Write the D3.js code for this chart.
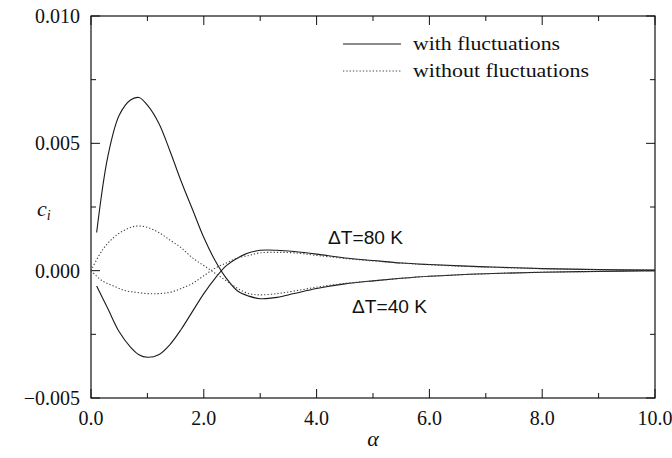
<!DOCTYPE html>
<html>
<head>
<meta charset="utf-8">
<script src="https://cdn.jsdelivr.net/npm/d3@7"></script>
<style>
  body { margin: 0; background: #fff; }
  svg { display: block; }
</style>
</head>
<body>
<svg id="chart" width="672" height="458"></svg>
<script>
// alpha grid and c_i values
const alphaA = [0.1, 0.3, 0.5, 0.7, 0.85, 1.0, 1.2, 1.4, 1.6, 1.8, 2.0, 2.2, 2.4, 2.6, 2.8, 3.0, 3.3, 3.6, 4.0, 4.5, 5.0, 5.5, 6.0, 7.0, 8.0, 9.0, 10.0];
const solidUpper = [0.0015, 0.0045, 0.0061, 0.0067, 0.0068, 0.0065, 0.0058, 0.0047, 0.0035, 0.0024, 0.0013, 0.0004, -0.0003, -0.0008, -0.0010, -0.0011, -0.00105, -0.0009, -0.0007, -0.00052, -0.0004, -0.0003, -0.00022, -0.00012, -0.00006, -0.00003, 0.0];
const solidLower = [-0.0006, -0.0015, -0.0024, -0.0030, -0.0033, -0.0034, -0.0033, -0.0029, -0.0023, -0.0016, -0.0009, -0.0003, 0.0002, 0.0005, 0.0007, 0.0008, 0.0008, 0.00075, 0.00065, 0.0005, 0.0004, 0.0003, 0.00024, 0.00015, 0.00008, 0.00004, 0.00002];

const alphaB = [0.0, 0.2, 0.4, 0.6, 0.8, 1.0, 1.2, 1.4, 1.6, 1.8, 2.0, 2.2, 2.4, 2.6, 2.8, 3.0, 3.3, 3.6, 4.0, 4.5, 5.0, 5.5, 6.0, 7.0, 8.0, 9.0, 10.0];
const dottedUpper = [0.0, 0.0008, 0.0013, 0.0016, 0.00175, 0.0017, 0.0015, 0.0012, 0.0009, 0.0005, 0.0002, -0.0001, -0.0004, -0.0007, -0.0009, -0.00095, -0.0009, -0.0008, -0.00065, -0.0005, -0.0004, -0.0003, -0.00022, -0.00012, -0.00006, -0.00003, 0.0];
const dottedLower = [0.0, -0.0004, -0.0006, -0.00078, -0.00085, -0.0009, -0.0009, -0.00085, -0.0007, -0.0005, -0.0002, 0.0001, 0.0003, 0.0005, 0.0006, 0.0007, 0.00072, 0.0007, 0.0006, 0.00048, 0.00038, 0.0003, 0.00023, 0.00014, 0.00008, 0.00004, 0.00002];

const xTicks = [0, 2, 4, 6, 8, 10];
const xMinor = [1, 3, 5, 7, 9];
const yTicks = [-0.005, 0.0, 0.005, 0.010];
const yMinor = [-0.0025, 0.0025, 0.0075];

const legendLabels = ["with fluctuations", "without fluctuations"];
const curveLabels = ["\u0394T=80 K", "\u0394T=40 K"];

const frame = { left: 91, right: 655, top: 16, bottom: 398 };
const svg = d3.select("#chart");

const x = d3.scaleLinear().domain([0, 10]).range([frame.left, frame.right]);
const y = d3.scaleLinear().domain([-0.005, 0.010]).range([frame.bottom, frame.top]);

const ink = "#111";

// frame
svg.append("rect")
  .attr("x", frame.left).attr("y", frame.top)
  .attr("width", frame.right - frame.left).attr("height", frame.bottom - frame.top)
  .attr("fill", "none").attr("stroke", ink).attr("stroke-width", 1.2);

// inward ticks on all four sides
const tickG = svg.append("g").attr("stroke", ink).attr("stroke-width", 1);
function vTicks(vals, len) {
  vals.forEach(v => {
    tickG.append("line").attr("x1", x(v)).attr("x2", x(v)).attr("y1", frame.bottom).attr("y2", frame.bottom - len);
    tickG.append("line").attr("x1", x(v)).attr("x2", x(v)).attr("y1", frame.top).attr("y2", frame.top + len);
  });
}
function hTicks(vals, len) {
  vals.forEach(v => {
    tickG.append("line").attr("y1", y(v)).attr("y2", y(v)).attr("x1", frame.left).attr("x2", frame.left + len);
    tickG.append("line").attr("y1", y(v)).attr("y2", y(v)).attr("x1", frame.right).attr("x2", frame.right - len);
  });
}
vTicks(xTicks, 9); vTicks(xMinor, 5);
hTicks(yTicks, 9); hTicks(yMinor, 5);

const tickFont = "'Liberation Serif', 'Times New Roman', serif";

svg.append("g").selectAll("text").data(xTicks).join("text")
  .attr("x", d => x(d)).attr("y", frame.bottom + 27)
  .attr("text-anchor", "middle")
  .attr("font-family", tickFont).attr("font-size", 20).attr("fill", ink)
  .text(d => d3.format(".1f")(d));

svg.append("g").selectAll("text").data(yTicks).join("text")
  .attr("x", frame.left - 11).attr("y", d => y(d) + 7)
  .attr("text-anchor", "end")
  .attr("font-family", tickFont).attr("font-size", 20).attr("fill", ink)
  .text(d => d3.format(".3f")(d).replace("-", "\u2212"));

// axis titles
svg.append("text")
  .attr("x", x(5)).attr("y", 446)
  .attr("text-anchor", "middle")
  .attr("font-family", tickFont).attr("font-style", "italic").attr("font-size", 22).attr("fill", ink)
  .text("\u03b1");

const ci = svg.append("text")
  .attr("x", 37).attr("y", 216)
  .attr("font-family", tickFont).attr("font-style", "italic").attr("font-size", 22).attr("fill", ink);
ci.append("tspan").text("c");
ci.append("tspan").attr("font-size", 14).attr("dy", 4).text("i");

// curves
const line = d3.line().x(d => x(d[0])).y(d => y(d[1])).curve(d3.curveCatmullRom.alpha(0.5));
const plot = svg.append("g");

function drawCurve(xs, ys, dashed) {
  plot.append("path")
    .datum(xs.map((a, i) => [a, ys[i]]))
    .attr("d", line)
    .attr("fill", "none")
    .attr("stroke", dashed ? "#444" : "#1a1a1a")
    .attr("stroke-width", 1.1)
    .attr("stroke-dasharray", dashed ? "1.3,2" : null);
}
drawCurve(alphaA, solidUpper, false);
drawCurve(alphaA, solidLower, false);
drawCurve(alphaB, dottedUpper, true);
drawCurve(alphaB, dottedLower, true);

// legend
const legend = svg.append("g");
[false, true].forEach((dashed, i) => {
  const ly = 44 + i * 27;
  legend.append("line")
    .attr("x1", 343).attr("x2", 401).attr("y1", ly).attr("y2", ly)
    .attr("stroke", dashed ? "#444" : "#1a1a1a").attr("stroke-width", 1.1)
    .attr("stroke-dasharray", dashed ? "1.3,2" : null);
  legend.append("text")
    .attr("x", 413).attr("y", ly + 6)
    .attr("font-family", tickFont).attr("font-size", 19).attr("fill", ink)
    .attr("textLength", i === 0 ? 147 : 176).attr("lengthAdjust", "spacingAndGlyphs")
    .text(legendLabels[i]);
});

// curve labels
const labelPos = [[328, 244], [352, 313]];
curveLabels.forEach((t, i) => {
  svg.append("text")
    .attr("x", labelPos[i][0]).attr("y", labelPos[i][1])
    .attr("font-family", "'Liberation Sans Narrow', 'Liberation Sans', Arial, sans-serif")
    .attr("font-size", 18).attr("fill", ink)
    .attr("textLength", 75).attr("lengthAdjust", "spacingAndGlyphs")
    .text(t);
});
</script>
</body>
</html>
